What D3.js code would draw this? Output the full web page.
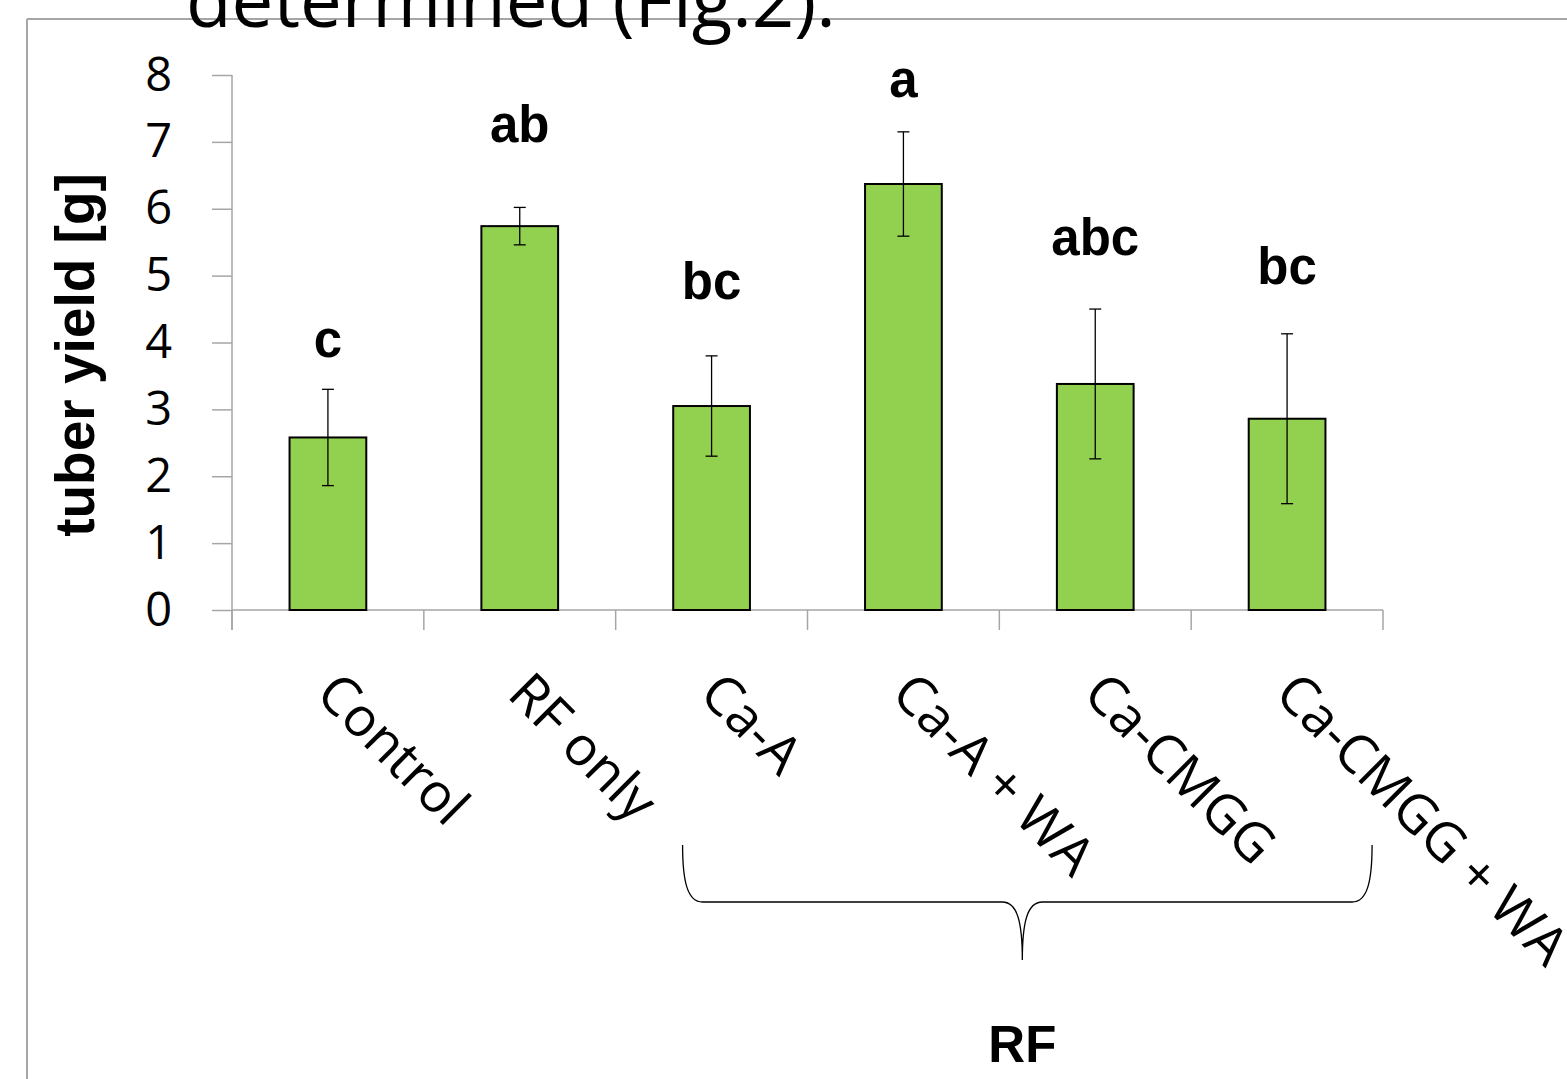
<!DOCTYPE html>
<html><head><meta charset="utf-8">
<script src="https://cdn.jsdelivr.net/npm/d3@7"></script>
<style>body{margin:0;background:#fff;overflow:hidden}</style>
</head><body>
<svg id="c" width="1567" height="1079"></svg>
<script>
const categories = ["Control","RF only","Ca-A","Ca-A + WA","Ca-CMGG","Ca-CMGG + WA"];
const yieldMeans = [2.58, 5.74, 3.05, 6.37, 3.38, 2.86];
const yieldErrors = [0.72, 0.28, 0.75, 0.78, 1.12, 1.27];
const sigLetters = ["c","ab","bc","a","abc","bc"];
const sigLevels = [4.04, 7.25, 4.90, 7.92, 5.56, 5.13];
const yTicks = [0,1,2,3,4,5,6,7,8];
const groupLabel = "RF";
const yTitle = "tuber yield [g]";
const topText = "determined (Fig.2).";

const svg = d3.select("#c");
const sans = "'Open Sans', sans-serif";
const bold = "'Liberation Sans', Arial, sans-serif";

// frame
svg.append("line").attr("x1",27).attr("x2",1567).attr("y1",19).attr("y2",19).attr("stroke","#a6a6a6").attr("stroke-width",2);
svg.append("line").attr("x1",27).attr("x2",27).attr("y1",19).attr("y2",1079).attr("stroke","#a6a6a6").attr("stroke-width",2);

// clipped heading text (partly outside the top edge, as in the reference)
const tt = svg.append("text").attr("x",186).attr("y",27).attr("font-family",sans).attr("font-size",60).attr("fill","#000").text(topText);
const tl = tt.node().getComputedTextLength();
tt.attr("font-size", 60*650/tl);

const x = d3.scaleBand().domain(categories).range([232,1383]).paddingInner(0.6).paddingOuter(0.3);
const y = d3.scaleLinear().domain([0,8]).range([610,75]);

// y axis
const ya = svg.append("g").attr("transform","translate(232,0)")
  .call(d3.axisLeft(y).tickValues(yTicks).tickSize(20).tickPadding(40).tickSizeOuter(0));
ya.select(".domain").attr("stroke","#a6a6a6").attr("stroke-width",1.5).attr("d","M0,"+y(8)+"V"+(y(0)+20));
ya.selectAll(".tick line").attr("stroke","#a6a6a6").attr("stroke-width",1.5);
ya.selectAll(".tick text").attr("font-family",sans).attr("font-size",47).attr("fill","#000");

// x axis line and boundary ticks
const x0 = x.range()[0], step = x.step();
svg.append("line").attr("x1",x0).attr("x2",x.range()[1]).attr("y1",y(0)).attr("y2",y(0)).attr("stroke","#a6a6a6").attr("stroke-width",1.5);
svg.selectAll(".xt").data(d3.range(categories.length+1)).join("line")
  .attr("x1",i=>x0+i*step).attr("x2",i=>x0+i*step).attr("y1",y(0)).attr("y2",y(0)+20)
  .attr("stroke","#a6a6a6").attr("stroke-width",1.5);

// bars
svg.selectAll(".bar").data(categories).join("rect")
  .attr("x",d=>x(d)).attr("width",x.bandwidth())
  .attr("y",(d,i)=>y(yieldMeans[i])).attr("height",(d,i)=>y(0)-y(yieldMeans[i]))
  .attr("fill","#92d050").attr("stroke","#000").attr("stroke-width",2);

// error bars
const eb = svg.selectAll(".eb").data(categories).join("g");
eb.append("line").attr("x1",d=>x(d)+x.bandwidth()/2).attr("x2",d=>x(d)+x.bandwidth()/2)
  .attr("y1",(d,i)=>y(yieldMeans[i]+yieldErrors[i])).attr("y2",(d,i)=>y(yieldMeans[i]-yieldErrors[i]))
  .attr("stroke","#000").attr("stroke-width",1.3);
[1,-1].forEach(s=>{
  eb.append("line").attr("x1",d=>x(d)+x.bandwidth()/2-6).attr("x2",d=>x(d)+x.bandwidth()/2+6)
    .attr("y1",(d,i)=>y(yieldMeans[i]+s*yieldErrors[i])).attr("y2",(d,i)=>y(yieldMeans[i]+s*yieldErrors[i]))
    .attr("stroke","#000").attr("stroke-width",1.3);
});

// significance letters
svg.selectAll(".sig").data(categories).join("text")
  .attr("x",d=>x(d)+x.bandwidth()/2).attr("y",(d,i)=>y(sigLevels[i]))
  .attr("dy","0.33em").attr("text-anchor","middle")
  .attr("font-family",bold).attr("font-weight","bold").attr("font-size",51).attr("fill","#000")
  .text((d,i)=>sigLetters[i]);

// x labels rotated
svg.selectAll(".xl").data(categories).join("text")
  .attr("transform",d=>`translate(${x(d)+x.bandwidth()/2-14},${y(0)+86}) rotate(45)`)
  .attr("font-family",sans).attr("font-size",54).attr("fill","#000").text(d=>d);

// y title
svg.append("text").attr("transform","translate(94,355) rotate(-90)").attr("text-anchor","middle")
  .attr("font-family",bold).attr("font-weight","bold").attr("font-size",55).attr("fill","#000").text(yTitle);

// brace spanning the RF groups
const bl = x(categories[2]) + x.bandwidth()/2 - 29, br = x(categories[5]) + x.bandwidth()/2 + 85;
const bm = (bl+br)/2 - 5, bt = 845, bh = 902, bp = 960;
const bracePath = `M${bl},${bt} C${bl},${bh-20} ${bl+5},${bh} ${bl+20},${bh} L${bm-20},${bh} C${bm-5},${bh} ${bm},${bh+20} ${bm},${bp} C${bm},${bh+20} ${bm+5},${bh} ${bm+20},${bh} L${br-20},${bh} C${br-5},${bh} ${br},${bh-20} ${br},${bt}`;
svg.append("path").attr("d",bracePath).attr("fill","none").attr("stroke","#000").attr("stroke-width",1.3);
svg.append("text").attr("x",bm).attr("y",1062).attr("text-anchor","middle")
  .attr("font-family",bold).attr("font-weight","bold").attr("font-size",51).attr("fill","#000").text(groupLabel);
</script>
</body></html>
